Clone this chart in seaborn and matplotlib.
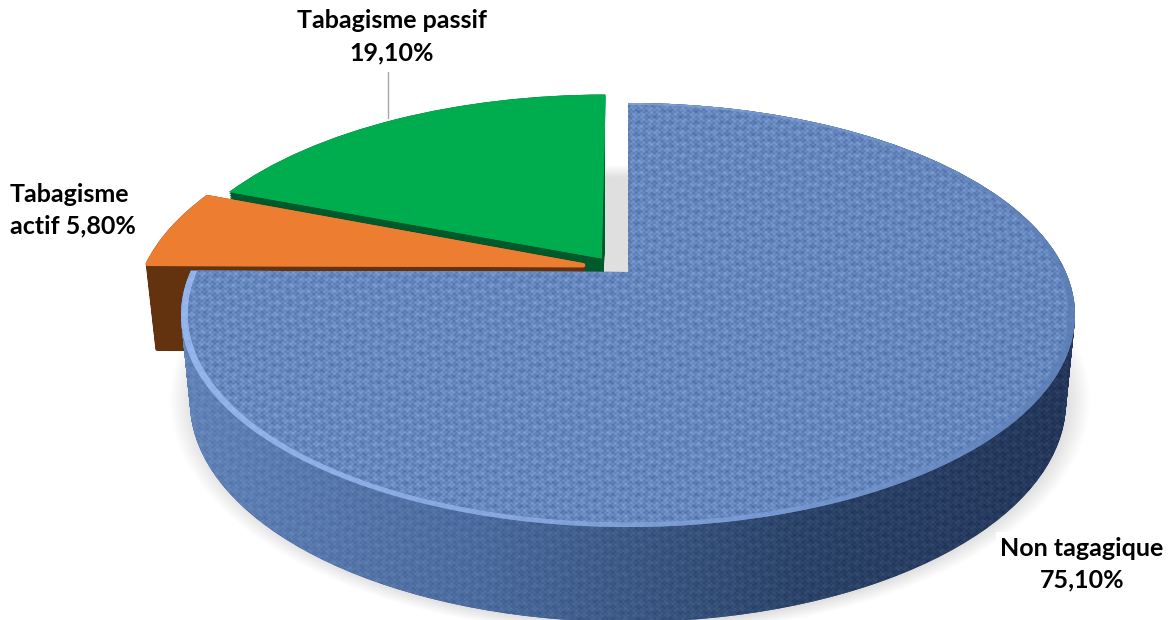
import numpy as np
import matplotlib
matplotlib.use("Agg")
import matplotlib.pyplot as plt
import seaborn as sns
from matplotlib.patches import Ellipse, PathPatch, Rectangle
from matplotlib.path import Path
from matplotlib.transforms import Transform, Affine2D

# ---------- data ----------
categories = ["Non tagagique", "Tabagisme actif", "Tabagisme passif"]
values = [75.1, 5.8, 19.1]
explode = [0.0, 0.1, 0.1]
top_colors = ["#6687BE", "#ED7D31", "#00AD4E"]
side_colors = ["#3F5D90", "#63320F", "#00592A"]

sns.set_theme(style="white")
plt.rcParams["font.family"] = ["Lato", "DejaVu Sans"]

W, H = 1172, 620
fig = plt.figure(figsize=(W / 100, H / 100), dpi=100, facecolor="white")
ax = fig.add_axes([0, 0, 1, 1])


class Tilt(Transform):
    """Perspective view of the pie's unit disc, in pixel-like data units."""
    input_dims = output_dims = 2
    is_separable = False
    has_inverse = False
    CX, CY, A, B, K = 628.0, 272.0, 437.7, 203.3, 0.2028

    def transform_non_affine(self, v):
        v = np.asarray(v, float)
        w = 1 + self.K * v[:, 1]
        return np.column_stack([self.CX + self.A * v[:, 0] / w,
                                self.CY - self.B * v[:, 1] / w])

    def transform_path_non_affine(self, path):
        return Path(self.transform_non_affine(path.vertices), path.codes)


tilt = Tilt()
nudges = [(0, 0), (-2, -3), (-2, 3)]


def swept(wedge, nudge, steps=48):
    """Region covered by a slice pushed down through the depth of the pie."""
    base = tilt.transform_non_affine(wedge.get_path().vertices) + np.array(nudge)
    codes = wedge.get_path().codes
    parts = []
    for t in np.linspace(0, 1, steps):
        v = base.copy()
        depth = 85 + (v[:, 1] - 265) * 10 / 262
        v[:, 1] += t * depth
        v[:, 0] = tilt.CX + (v[:, 0] - tilt.CX) * (1 - 0.02 * t)
        parts.append(Path(v, codes))
    return Path.make_compound_path(*parts)


yy, xx = np.mgrid[0:H, 0:W]
weave = (0.46 * np.sin(2 * np.pi * yy / 4.6 + 0.8 * np.sin(2 * np.pi * xx / 41))
         * np.sin(2 * np.pi * xx / 5.2)
         + 0.34 * np.sin(2 * np.pi * yy / 11.3) * np.cos(2 * np.pi * xx / 29)
         + 0.26 * np.sin(2 * np.pi * xx / 8.3 + np.sin(2 * np.pi * yy / 31))
         + 0.20 * np.sin(2 * np.pi * yy / 5.9))


def hex_rgb(c):
    return np.array(matplotlib.colors.to_rgb(c))


def textured(stops_x, stops_c, amp, clip, z):
    rgb = np.stack([np.interp(xx, stops_x, [hex_rgb(c)[i] for c in stops_c])
                    for i in range(3)], axis=-1)
    rgb = np.clip(rgb + amp * weave[..., None], 0, 1)
    im = ax.imshow(rgb, extent=(0, W, H, 0), aspect="auto",
                   interpolation="bilinear", zorder=z)
    im.set_clip_path(clip)
    return im


# soft shadow under the pie
for grow in np.linspace(1.0, 0.95, 16):
    ax.add_patch(Ellipse((630, 400), 2 * 460 * grow, 2 * 235 * grow,
                         facecolor="#000000", alpha=0.0085, lw=0, zorder=1))

# slices
wedges, _ = ax.pie(values, explode=explode, colors=top_colors, startangle=90,
                   counterclock=False, radius=1.0)
inner, _ = ax.pie(values, explode=explode, colors=top_colors, startangle=90,
                  counterclock=False, radius=0.985)

layers = [30, 20, 10]
edge_widths = [0, 3, 0]
for group, dz in ((wedges, 2), (inner, 3)):
    for wedge, z, nudge, lw in zip(group, layers, nudges, edge_widths):
        wedge.set_transform(tilt + Affine2D().translate(*nudge) + ax.transData)
        wedge.set_zorder(z + dz)
        wedge.set_edgecolor(wedge.get_facecolor())
        wedge.set_linewidth(lw)
        wedge.set_joinstyle("round")

# walls
walls = []
for wedge, col, z, nudge, lw in zip(wedges, side_colors, layers, nudges, edge_widths):
    walls.append(ax.add_patch(PathPatch(swept(wedge, nudge), facecolor=col, edgecolor=col,
                                        lw=lw, joinstyle="round", zorder=z)))

# keep the third slice's straight edge clean against the gap
gap_edge = Rectangle((0, 0), 604.5, H, transform=ax.transData)
for artist in (walls[2], wedges[2], inner[2]):
    artist.set_clip_path(gap_edge)

# woven finish on the large slice
wall = PathPatch(swept(wedges[0], nudges[0]), transform=ax.transData)
textured([185, 480, 800, 1075], ["#6283B8", "#4C6C9F", "#2C4469", "#24375A"],
         0.05, wall, 31)
textured([185, 480, 800, 1075], ["#93B4EA", "#86A8DE", "#7597CF", "#5C7FB6"],
         0.03, wedges[0], 32.5)
textured([185, 1075], ["#6889C0", "#6687BE"], 0.10, inner[0], 34)

# labels
def pct(v):
    return f"{v:.2f}".replace(".", ",") + "%"

text_kw = dict(fontsize=18, fontweight="bold", color="black", zorder=50, va="center")
ax.text(392, 21, categories[2], ha="center", **text_kw)
ax.text(392, 53, pct(values[2]), ha="center", **text_kw)
ax.text(10, 194, "Tabagisme", ha="left", **text_kw)
ax.text(10, 226, "actif " + pct(values[1]), ha="left", **text_kw)
ax.text(1082, 548, categories[0], ha="center",
        bbox=dict(facecolor="white", edgecolor="none", pad=3), **text_kw)
ax.text(1082, 580, pct(values[0]), ha="center", **text_kw)
ax.plot([388, 388], [72, 118], color="#A6A6A6", lw=1, zorder=5)

ax.set_aspect("auto")
ax.set_xlim(0, W)
ax.set_ylim(H, 0)
ax.axis("off")
fig.savefig("out.png", dpi=100, facecolor="white")
